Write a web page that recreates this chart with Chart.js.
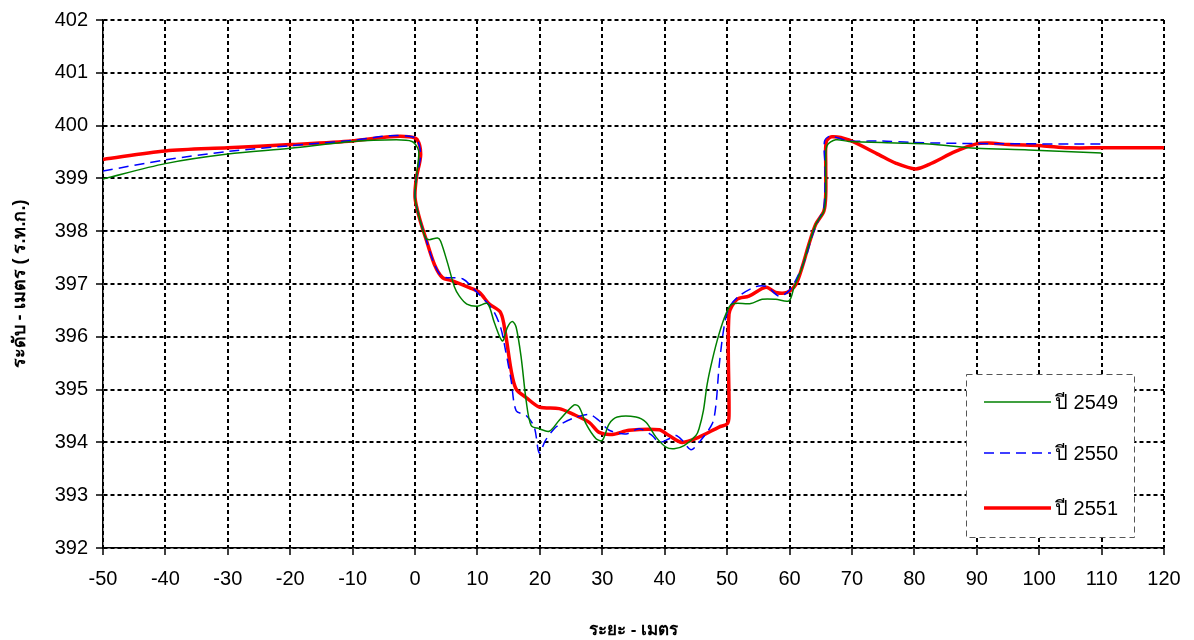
<!DOCTYPE html>
<html>
<head>
<meta charset="utf-8">
<script src="https://cdn.jsdelivr.net/npm/chart.js@4/dist/chart.umd.min.js"></script>
<style>
  html, body { margin: 0; padding: 0; background: #fff; }
  #wrap { width: 1194px; height: 640px; }
</style>
</head>
<body>
<div id="wrap"><canvas id="chartKhet" width="1194" height="640"></canvas></div>
<script>
// ข้อมูลหน้าตัดลำน้ำ (ระยะ, ระดับ)
const seriesNames = ['ปี 2549', 'ปี 2550', 'ปี 2551'];

const x2549 = [-50, -40, -30, -20, -10, -3, -0.5, 0.4, 0.6, 0.2, 0.0, 0.7, 1.7, 2.3, 3.6, 4.1, 5.2, 6.3, 7.1, 8.3, 10.0, 11.6, 12.7, 14.0, 14.8, 15.6, 16.2, 17.0, 17.8, 18.6, 19.9, 21.5, 23.1, 25.5, 26.3, 27.4, 29.0, 30.0, 31.1, 32.4, 35.4, 37.0, 38.6, 40.2, 41.5, 43.1, 45.0, 45.5, 46.2, 46.8, 47.6, 48.7, 49.8, 50.8, 53.8, 55.6, 57.8, 59.9, 60.7, 62.0, 63.1, 64.2, 65.5, 65.8, 65.8, 66.0, 67.4, 69.5, 77.0, 82.3, 89.8, 98.3, 110];
const y2549 = [398.99, 399.28, 399.46, 399.57, 399.70, 399.73, 399.70, 399.58, 399.45, 399.0, 398.63, 398.25, 397.87, 397.84, 397.87, 397.81, 397.40, 396.95, 396.77, 396.62, 396.58, 396.63, 396.27, 395.92, 396.18, 396.29, 396.18, 395.61, 394.79, 394.32, 394.26, 394.21, 394.42, 394.71, 394.67, 394.35, 394.07, 394.04, 394.35, 394.48, 394.48, 394.38, 394.10, 393.91, 393.88, 393.94, 394.13, 394.26, 394.60, 395.10, 395.55, 396.05, 396.43, 396.62, 396.63, 396.71, 396.71, 396.68, 396.93, 397.31, 397.75, 398.13, 398.38, 398.69, 399.26, 399.62, 399.73, 399.70, 399.67, 399.65, 399.57, 399.54, 399.48];

const x2550 = [-50, -40, -30, -20, -10, -4, -1, 0.3, 0.9, 0.2, 0.0, 0.7, 1.7, 3.1, 4.4, 7.6, 9.7, 12.4, 13.7, 14.5, 15.4, 16.2, 17.8, 19.1, 19.9, 20.9, 22.3, 23.1, 25.2, 27.9, 29.5, 31.1, 33.8, 35.9, 38.0, 39.1, 40.7, 41.8, 42.8, 44.2, 45.5, 47.6, 48.2, 48.7, 49.5, 50.3, 51.9, 54.6, 56.4, 58.3, 59.9, 61.2, 62.6, 63.6, 64.6, 65.5, 65.7, 65.6, 66.5, 69.5, 74.8, 79.6, 90, 110];
const y2550 = [399.14, 399.35, 399.51, 399.62, 399.72, 399.81, 399.80, 399.74, 399.45, 399.0, 398.63, 398.25, 397.87, 397.37, 397.14, 397.10, 396.87, 396.52, 396.18, 395.74, 395.17, 394.60, 394.51, 394.29, 393.80, 394.04, 394.26, 394.33, 394.45, 394.53, 394.41, 394.23, 394.16, 394.26, 394.13, 394.00, 394.07, 394.13, 394.04, 393.86, 394.00, 394.35, 394.70, 395.42, 396.18, 396.55, 396.77, 396.95, 396.95, 396.77, 396.87, 397.12, 397.50, 397.90, 398.20, 398.45, 399.20, 399.70, 399.80, 399.71, 399.71, 399.68, 399.66, 399.65];

const x2551 = [-50, -40, -30, -20, -10, -4, -1, 0.3, 0.9, 0.2, 0.0, 0.7, 1.7, 3.1, 4.4, 6.0, 8.7, 10.3, 11.9, 13.7, 14.5, 15.4, 16.2, 17.8, 19.9, 23.1, 25.2, 27.9, 29.5, 31.6, 34.3, 39.1, 40.7, 42.8, 45.5, 48.7, 50.0, 50.3, 50.3, 51.6, 53.5, 56.2, 57.8, 59.6, 61.0, 62.0, 63.1, 64.2, 65.5, 65.8, 65.8, 65.9, 66.8, 69.5, 74.3, 77.0, 80.2, 82.3, 86.6, 89.8, 91.9, 95.1, 100.4, 104.7, 110, 120];
const y2551 = [399.36, 399.52, 399.58, 399.64, 399.71, 399.79, 399.79, 399.74, 399.45, 399.0, 398.63, 398.25, 397.87, 397.37, 397.12, 397.06, 396.93, 396.84, 396.62, 396.46, 396.05, 395.36, 395.01, 394.85, 394.67, 394.64, 394.54, 394.38, 394.19, 394.15, 394.23, 394.24, 394.13, 394.00, 394.10, 394.29, 394.35, 394.50, 396.43, 396.71, 396.77, 396.94, 396.84, 396.84, 396.99, 397.31, 397.75, 398.13, 398.38, 398.69, 399.26, 399.70, 399.79, 399.73, 399.45, 399.29, 399.18, 399.26, 399.51, 399.65, 399.67, 399.64, 399.62, 399.58, 399.58, 399.58];

const xMin = -50, xMax = 120, xStep = 10;
const yMin = 392, yMax = 402, yStep = 1;

function jud(xs, ys) {
  return xs.map((x, i) => ({ x: x, y: ys[i] }));
}

const fontHui = "'Liberation Sans', Arial, 'Noto Sans', sans-serif";

// กล่องคำอธิบายแบบเส้นประ มุมขวาล่าง
const legendKlong = {
  id: 'legendKlong',
  afterDraw(chart) {
    const ctx = chart.ctx;
    const bx = 966, by = 374, bw = 168, bh = 163;
    ctx.save();
    ctx.fillStyle = '#ffffff';
    ctx.fillRect(bx, by, bw, bh);
    ctx.strokeStyle = '#555555';
    ctx.lineWidth = 1;
    ctx.setLineDash([6, 4]);
    ctx.strokeRect(bx + 0.5, by + 0.5, bw, bh);
    const rows = [402, 453, 508];
    chart.data.datasets.forEach((ds, i) => {
      ctx.setLineDash(ds.borderDash || []);
      ctx.strokeStyle = ds.borderColor;
      ctx.lineWidth = ds.borderWidth;
      ctx.beginPath();
      ctx.moveTo(984, rows[i]);
      ctx.lineTo(1051, rows[i]);
      ctx.stroke();
      ctx.setLineDash([]);
      ctx.fillStyle = '#000';
      ctx.font = '20px ' + fontHui;
      ctx.textBaseline = 'middle';
      ctx.fillText(ds.label, 1055, rows[i] + 1);
    });
    ctx.restore();
  }
};

const ctx = document.getElementById('chartKhet').getContext('2d');

const chartKhet = new Chart(ctx, {
  type: 'scatter',
  data: {
    datasets: [{
      label: seriesNames[0],
      data: jud(x2549, y2549),
      borderColor: '#008000',
      borderWidth: 1.5,
      showLine: true,
      pointRadius: 0,
      tension: 0.3
    }, {
      label: seriesNames[1],
      data: jud(x2550, y2550),
      borderColor: '#0000ff',
      borderWidth: 1.5,
      borderDash: [10, 6],
      showLine: true,
      pointRadius: 0,
      tension: 0.3
    }, {
      label: seriesNames[2],
      data: jud(x2551, y2551),
      borderColor: '#ff0000',
      borderWidth: 3.5,
      showLine: true,
      pointRadius: 0,
      tension: 0.3
    }]
  },
  options: {
    responsive: false,
    animation: false,
    devicePixelRatio: 1,
    layout: { padding: { top: 17, right: 30, left: 0, bottom: 0 } },
    plugins: {
      legend: { display: false },
      tooltip: { enabled: false }
    },
    scales: {
      x: {
        type: 'linear',
        min: xMin,
        max: xMax,
        afterFit: (s) => { s.height = 92; },
        ticks: {
          stepSize: xStep,
          color: '#000',
          padding: 12,
          maxRotation: 0,
          font: { family: fontHui, size: 20 }
        },
        grid: {
          color: '#000',
          lineWidth: 2,
          tickLength: 7,
          tickColor: '#000',
          tickWidth: 1.5,
          tickBorderDash: []
        },
        border: { display: true, color: '#000', width: 1.5, dash: [4, 3] },
        title: {
          display: true,
          text: 'ระยะ - เมตร',
          color: '#000',
          padding: { top: 0, bottom: -1 },
          font: { family: fontHui, size: 17, weight: 'bold' }
        }
      },
      y: {
        type: 'linear',
        min: yMin,
        max: yMax,
        afterFit: (s) => { s.width = 103; },
        ticks: {
          stepSize: yStep,
          color: '#000',
          padding: 8,
          font: { family: fontHui, size: 20 }
        },
        grid: {
          color: '#000',
          lineWidth: 2,
          tickLength: 7,
          tickColor: '#000',
          tickWidth: 1.5,
          tickBorderDash: []
        },
        border: { display: true, color: '#000', width: 1.5, dash: [4, 3] },
        title: {
          display: true,
          text: 'ระดับ - เมตร ( ร.ท.ก.)',
          color: '#000',
          padding: { top: 9, bottom: 0 },
          font: { family: fontHui, size: 18, weight: 'bold' }
        }
      }
    }
  },
  plugins: [legendKlong]
});
</script>
</body>
</html>
